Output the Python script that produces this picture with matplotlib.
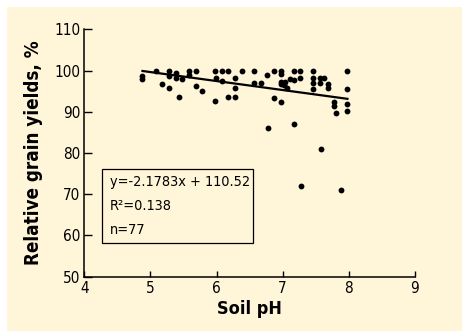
import numpy as np
import matplotlib
matplotlib.use('Agg')
import matplotlib.pyplot as plt
from matplotlib.patches import Rectangle

# soil pH and relative grain yield (%)
soil_ph = [4.88, 4.88, 5.08, 5.18, 5.28, 5.28, 5.28, 5.38, 5.38, 5.43,
           5.48, 5.58, 5.58, 5.69, 5.69, 5.78, 5.98, 5.98, 5.99, 6.08,
           6.08, 6.18, 6.18, 6.28, 6.28, 6.28, 6.38, 6.57, 6.57, 6.67,
           6.77, 6.78, 6.87, 6.87, 6.98, 6.98, 6.98, 6.98, 7.04, 7.02,
           7.07, 6.98, 7.11, 7.17, 7.17, 7.26, 7.26, 7.17, 7.27, 7.46,
           7.46, 7.46, 7.46, 7.57, 7.57, 7.62, 7.68, 7.68, 7.77, 7.77,
           7.80, 7.97, 7.97, 7.97, 7.97, 7.58, 7.88]
grain_yield = [98.7, 97.9, 100, 96.7, 100, 98.7, 95.8, 99.3, 98.1, 93.6,
               97.9, 100, 98.9, 100, 96.3, 95.1, 100, 92.7, 98.3, 100,
               97.5, 100, 93.6, 98.3, 95.8, 93.6, 100, 100, 96.9, 96.9,
               98.9, 86.1, 100, 93.3, 100, 99.2, 97.2, 96.7, 97.2, 96.5,
               95.8, 92.4, 97.9, 100, 97.7, 100, 98.1, 87.0, 72.1, 100,
               98.1, 96.9, 95.4, 98.1, 96.9, 98.3, 96.7, 95.8, 92.4, 91.4,
               89.6, 100, 95.4, 91.8, 90.2, 81.0, 71.0]

slope = -2.1783
intercept = 110.52
fit_range = [4.88, 7.98]
stats_lines = ['y=-2.1783x + 110.52', 'R\u00b2=0.138', 'n=77']

x_ticks = [4, 5, 6, 7, 8, 9]
y_ticks = [50, 60, 70, 80, 90, 100, 110]

plt.rcParams['font.family'] = ['DejaVu Sans']
plt.rcParams['font.stretch'] = 'condensed'
bg = '#fff5d9'

fig = plt.figure(figsize=(4.62, 3.31), dpi=100)
fig.patch.set_facecolor('white')
fig.patches.append(Rectangle((7 / 462, 0), 1, 324 / 331, transform=fig.transFigure,
                             facecolor=bg, edgecolor='none', zorder=-10))

ax = fig.add_axes([0.1825, 0.164, 0.7155, 0.7475])
ax.set_facecolor(bg)
ax.patch.set_alpha(0)

ax.plot(soil_ph, grain_yield, 'o', color='black', markersize=4.2, markeredgewidth=0)
fx = np.array(fit_range)
ax.plot(fx, slope * fx + intercept, color='black', linewidth=1.6)

ax.set_xlim(4, 9)
ax.set_ylim(50, 110)
ax.set_xticks(x_ticks)
ax.set_yticks(y_ticks)
for s in ['top', 'right']:
    ax.spines[s].set_visible(False)
for s in ['left', 'bottom']:
    ax.spines[s].set_linewidth(1.1)
ax.tick_params(axis='y', direction='in', length=6, width=1, labelsize=11, pad=3)
ax.tick_params(axis='x', direction='in', length=4, width=1, labelsize=11, pad=3)

ax.set_xlabel('Soil pH', fontsize=13, fontweight='bold', labelpad=3)
ax.set_ylabel('Relative grain yields, %', fontsize=13.5, fontweight='bold', labelpad=8)

ax.add_patch(Rectangle((0.0544, 0.137), 0.4546, 0.297, transform=ax.transAxes,
                       facecolor='none', edgecolor='black', linewidth=0.9))
for yy, txt in zip([0.3816, 0.2858, 0.189], stats_lines):
    ax.text(0.078, yy, txt, transform=ax.transAxes, fontsize=10.4, va='center', ha='left')

fig.savefig('out.png', dpi=100, facecolor=fig.get_facecolor())
